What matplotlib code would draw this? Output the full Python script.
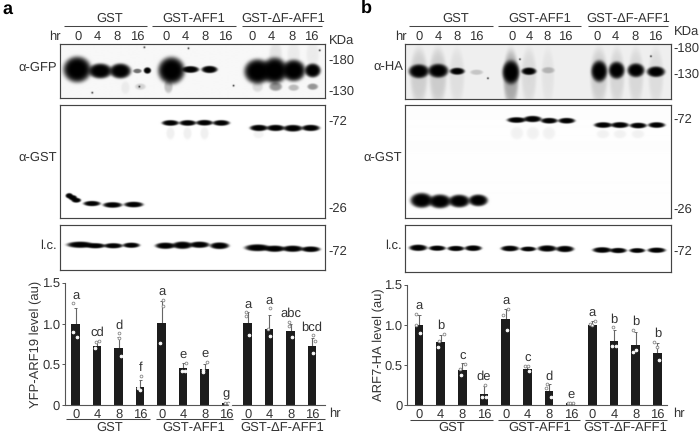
import numpy as np
import matplotlib
matplotlib.use("Agg")
import matplotlib.pyplot as plt

plt.rcParams['font.family'] = ['Liberation Sans', 'DejaVu Sans']
plt.rcParams['text.hinting'] = 'no_hinting'
plt.rcParams['text.hinting_factor'] = 1

W, H = 699, 433
TXT = '#333333'
FS = 9.4

hours = ['0', '4', '8', '16'] * 3
groups = ['GST', 'GST-AFF1', 'GST-\u0394F-AFF1']

# densitometry, panel a
a_vals = [1.0, 0.73, 0.70, 0.22, 1.01, 0.45, 0.44, 0.02, 1.01, 0.93, 0.91, 0.72]
a_tops = [1.19, 0.79, 0.83, 0.31, 1.28, 0.52, 0.50, 0.03, 1.14, 1.11, 0.99, 0.82]
a_pts = [[1.25, 0.90, 0.83], [0.70, 0.78, 0.79], [0.88, 0.82, 0.60], [0.36, 0.205, 0.18],
         [1.29, 1.22, 0.76], [0.52, 0.42, 0.42], [0.53, 0.43, 0.41], [0.03, 0.03, 0.015],
         [1.14, 1.10, 0.86], [1.19, 0.94, 0.85], [1.02, 0.97, 0.84], [0.855, 0.79, 0.645]]
a_jit = [[-0.14, -0.11, 0.08], [-0.11, -0.06, 0.08], [0, 0, 0.09], [0.06, -0.08, -0.02],
         [0.08, 0.08, -0.06], [0.11, -0.06, 0.09], [0.09, -0.09, -0.09], [-0.03, 0.09, 0.18],
         [-0.09, -0.09, 0.08], [0.03, -0.03, 0.05], [-0.08, -0.08, 0.06], [0.03, 0.13, 0.03]]
a_letters = ['a', 'cd', 'd', 'f', 'a', 'e', 'e', 'g', 'a', 'a', 'abc', 'bcd']

# densitometry, panel b
b_vals = [1.0, 0.79, 0.44, 0.14, 1.07, 0.45, 0.17, 0.02, 1.0, 0.80, 0.75, 0.65]
b_tops = [1.125, 0.875, 0.52, 0.24, 1.2, 0.48, 0.26, 0.03, 1.05, 0.94, 0.91, 0.77]
b_pts = [[1.14, 1.0, 0.90], [0.89, 0.80, 0.73], [0.51, 0.45, 0.37], [0.25, 0.105, 0.105],
         [1.2, 1.125, 0.94], [0.49, 0.49, 0.43], [0.26, 0.21, 0.105], [0.03, 0.03, 0.02],
         [1.01, 1.0, 1.045], [0.97, 0.74, 0.74], [0.94, 0.66, 0.69], [0.79, 0.72, 0.56]]
b_jit = [[-0.15, -0.12, 0.06], [0.14, -0.09, -0.12], [0.12, -0.09, -0.06], [0.06, -0.09, 0.09],
         [0.09, -0.12, 0.08], [-0.09, 0.02, 0.09], [-0.09, -0.12, 0.08], [-0.14, -0.02, 0.09],
         [-0.12, -0.03, 0.11], [-0.05, -0.09, 0.09], [-0.11, -0.11, 0.03], [-0.15, 0, 0.09]]
b_letters = ['a', 'b', 'c', 'de', 'a', 'c', 'd', 'e', 'a', 'b', 'b', 'b']

# blot bands: x, y, half width, half height, darkness (in picture pixels)
a1_bands = [(77, 70, 13, 12, 1), (100, 71.5, 11, 7, 1), (120, 71.5, 10, 7, 1), (147, 71, 3.5, 3, 1), (137, 71.5, 4, 2.2, .55),
            (171, 71, 12.5, 12.5, 1), (190, 70, 8, 3.2, 1), (209, 70, 7.5, 3.4, 1),
            (257, 72, 12.5, 11.5, 1), (274, 71, 12, 12, 1), (293, 71, 11, 10, 1), (312, 71, 7.5, 6.5, 1),
            (168, 87, 4, 6, .22), (275, 87, 6, 4, .4), (293, 88, 5, 3, .25), (312, 87, 5, 3, .4), (257, 87, 5, 5, .12),
            (140, 87, 5, 3, .15), (125, 88, 4, 6, .05), (275, 55, 6, 12, .08), (293, 55, 6, 12, .05), (312, 55, 6, 12, .05)]
a1_specks = [(144, 48), (188, 49), (319, 51), (139, 87), (233, 86), (92, 93)]

a2_bands = [(170, 122.7, 8, 2.7, 1), (187.3, 122.7, 8, 2.7, 1), (204, 122.5, 8, 2.7, 1), (220.7, 122.7, 8, 2.7, 1),
            (258.3, 127.7, 8.5, 3, 1), (275, 127.7, 8.5, 3, 1), (292.3, 128, 9, 3.2, 1), (310, 127.7, 8.5, 3, 1),
            (69, 195.5, 3.5, 2.5, 1), (72.5, 197.5, 4, 2.5, 1), (76, 200, 4.5, 2.3, 1),
            (91.7, 203.3, 8, 2.5, 1), (112.3, 204.7, 9, 2.7, 1), (133.3, 204.3, 9, 2.7, 1),
            (170, 133, 4, 6, .06), (187, 133, 4, 6, .06), (204, 133, 4, 6, .06), (258, 134, 5, 4, .05)]

a3_bands = [(80, 245, 12.5, 3, 1), (95, 246, 9.5, 2.5, 1), (113, 246, 9, 2.5, 1), (131, 245.5, 8, 2.5, 1),
            (165, 246, 9.5, 3, 1), (182, 245.5, 9.5, 3.5, 1), (199, 245, 9.5, 3, 1), (219, 246, 9, 3.2, 1),
            (257, 248, 12, 3.3, 1), (274, 249, 10, 3, 1), (292, 249, 10, 3, 1), (310, 249.5, 9, 2.7, 1)]

b1_bands = [(419, 71, 9.5, 6.5, 1), (438.3, 70.5, 9.5, 6.5, 1), (457.3, 71, 7, 3.3, 1), (476.7, 72, 6, 2.5, .18),
            (511, 72, 8, 11, 1), (529, 71, 7, 3.5, 1), (548.3, 70, 6, 3, .22),
            (599.3, 71, 7.5, 10, 1), (616.7, 70, 7.5, 8, 1), (636, 70, 8, 6.5, 1), (656, 71.5, 8.5, 5, 1),
            (419, 76, 8, 26, .14), (438, 76, 8, 26, .15), (457, 76, 7, 26, .07),
            (511, 78, 7, 26, .3), (529, 76, 7, 26, .09), (548, 76, 6, 26, .05),
            (599, 76, 8, 26, .14), (617, 76, 7, 26, .11), (636, 76, 7, 26, .1), (656, 76, 7, 26, .08)]
b1_specks = [(651, 56), (488, 78), (520, 59)]

b2_bands = [(516.7, 120, 9, 2.7, 1), (532.7, 119, 8.5, 3, 1), (549.3, 120.7, 8, 2.7, 1), (566.7, 120.7, 8, 2.7, 1),
            (603.3, 125, 8.5, 2.7, 1), (620, 125, 8.5, 2.8, 1), (638.3, 125.5, 8, 2.7, 1), (656.7, 125, 8, 2.7, 1),
            (421.7, 200, 10.5, 7, 1), (440, 201, 10.5, 6.5, 1), (459.3, 200.7, 10, 6, 1), (478.3, 200, 9, 5.5, 1),
            (517, 133, 6, 6, .05), (533, 133, 6, 6, .05), (549, 133, 6, 6, .05), (603, 134, 6, 4, .05), (620, 134, 6, 4, .05), (638, 134, 6, 4, .05)]

b3_bands = [(418.3, 248.3, 8.5, 3, 1), (437.3, 248.7, 8, 2.5, 1), (456, 249, 8, 2.5, 1), (473.3, 248.7, 8, 2.7, 1),
            (510, 249, 8.5, 2.7, 1), (528.3, 249.5, 7.5, 2.3, 1), (547.3, 249, 9, 3, 1), (565, 249.5, 8.5, 3, 1),
            (602.3, 250.5, 9, 2.7, 1), (618.3, 251, 8, 2.5, 1), (637.3, 251, 7.5, 2.3, 1), (656.7, 250.7, 8.5, 2.5, 1)]


def px_axes(fig, x0, y0, x1, y1):
    # axes from picture pixel box (y down)
    return fig.add_axes([x0 / W, 1 - y1 / H, (x1 - x0) / W, (y1 - y0) / H])


def blot(fig, box, bands, specks=(), base=0.0):
    x0, y0, x1, y1 = box
    ax = px_axes(fig, x0, y0, x1, y1)
    xx, yy = np.meshgrid(np.arange(x0, x1, 0.5), np.arange(y0, y1, 0.5))
    keep = np.full(xx.shape, 1.0 - base)
    for x, y, hw, hh, dark in bands:
        r2 = ((xx - x) / hw) ** 2 + ((yy - y) / hh) ** 2
        keep *= 1 - dark * np.exp(-0.7 * r2 ** 3)
    for x, y in specks:
        keep *= 1 - 0.9 * np.exp(-((xx - x) ** 2 + (yy - y) ** 2) / 0.8)
    ax.imshow(keep, cmap='gray', vmin=0, vmax=1, extent=(x0, x1, y1, y0), aspect='auto', interpolation='bilinear')
    ax.set_xticks([])
    ax.set_yticks([])
    for s in ax.spines.values():
        s.set_linewidth(0.85)
        s.set_color('#444444')
    return ax


def bars(fig, box, xlim, vals, tops, pts, jit, letters, ylabel, ylabel_x):
    ax = px_axes(fig, *box)
    ax.patch.set_alpha(0)
    x = np.arange(len(vals))
    ax.bar(x, vals, width=0.4, color='#1c1c1c', zorder=2)
    ax.vlines(x, vals, tops, color='#666666', lw=0.8, zorder=1)
    ax.hlines(tops, x - 0.07, x + 0.07, color='#666666', lw=0.7, zorder=1)
    for i in x:
        for p, j in zip(pts[i], jit[i]):
            edge = 'white' if p < vals[i] else '#888888'
            ax.scatter(i + j, p, s=4, facecolor='white', edgecolor=edge, linewidth=0.6, zorder=3, clip_on=False)
        ax.text(i, max(max(pts[i]), tops[i]) + 0.1, letters[i], ha='center', va='center', fontsize=FS, color=TXT)
    ax.set_xlim(*xlim)
    ax.set_ylim(0, 1.5)
    ax.set_xticks(x)
    ax.set_xticklabels(hours, fontsize=FS, color=TXT)
    ax.set_yticks([0, 0.5, 1.0, 1.5])
    ax.set_yticklabels(['0', '0.5', '1.0', '1.5'], fontsize=FS + 0.3, color=TXT)
    ax.tick_params(axis='x', length=0, pad=2.5)
    ax.tick_params(axis='y', length=2, width=0.7, color='#555555', pad=1.5)
    for s in ['top', 'right']:
        ax.spines[s].set_visible(False)
    for s in ['left', 'bottom']:
        ax.spines[s].set_color('#555555')
        ax.spines[s].set_linewidth(0.8)
    ax.text(ylabel_x, 0.5, ylabel, transform=ax.transAxes, rotation=90, ha='center', va='center',
            fontsize=FS + 0.1, color=TXT)
    return ax


fig = plt.figure(figsize=(6.99, 4.33), dpi=100)

blot(fig, (60, 44, 324.5, 98.3), a1_bands, a1_specks, base=0.03)
blot(fig, (60, 105, 324.5, 218), a2_bands)
blot(fig, (60, 224.5, 324.5, 270.3), a3_bands)
blot(fig, (405.3, 44, 671, 99), b1_bands, b1_specks, base=0.06)
blot(fig, (405.3, 105.3, 671, 217.7), b2_bands, base=0.005)
blot(fig, (405.3, 225, 671, 272.3), b3_bands)

bars(fig, (65, 283, 325, 405), (-0.498, 11.6), a_vals, a_tops, a_pts, a_jit, a_letters, 'YFP-ARF19 level (au)', -0.11)
bars(fig, (407.3, 285, 667, 405), (-0.54, 11.44), b_vals, b_tops, b_pts, b_jit, b_letters, 'ARF7-HA level (au)', -0.11)

# labels and group rules on a full picture overlay
ov = fig.add_axes([0, 0, 1, 1])
ov.set_xlim(0, W)
ov.set_ylim(H, 0)
ov.axis('off')
ov.patch.set_alpha(0)


def label(x, y, s, ha='center', **kw):
    ov.text(x, y, s, ha=ha, va='center', fontsize=kw.pop('fontsize', FS), color=kw.pop('color', TXT), **kw)


def rules(y, spans, names, name_x, name_y):
    for (x0, x1), name, nx in zip(spans, names, name_x):
        ov.plot([x0, x1], [y, y], color='#444444', lw=0.75, solid_capstyle='butt')
        label(nx, name_y, name)


label(2, 9, 'a', ha='left', fontsize=13, fontweight='bold', color='black')
label(361, 8, 'b', ha='left', fontsize=13, fontweight='bold', color='black')

rules(25.5, [(64, 147), (152, 236), (242, 322)], groups, [110, 194, 283], 18.5)
rules(25.5, [(409.3, 492.7), (497.7, 581), (587.7, 667.7)], groups, [456, 540, 628], 18.5)
rules(419.3, [(66, 150), (156, 233), (240.7, 325)], groups, [109.3, 194, 282.7], 427.5)
rules(419.5, [(410, 493.3), (498, 580), (585, 666.7)], groups, [451.7, 540, 625], 427.5)

lane_a = [77.7, 97, 117, 137.7, 165.7, 185, 205, 225.7, 251.7, 271.7, 291.7, 311.7]
lane_b = [419, 438.7, 456.7, 476.7, 511.7, 529.3, 547.3, 565, 597, 615, 635, 655]
for x, h in zip(lane_a, hours):
    label(x, 36.7, h)
for x, h in zip(lane_b, hours):
    label(x, 36.7, h)
label(61, 36.7, 'hr', ha='right')
label(406.7, 36.7, 'hr', ha='right')
label(329, 413.3, 'hr', ha='left')
label(672.7, 413.3, 'hr', ha='left')

label(329, 41.7, 'KDa', ha='left')
label(674, 33, 'KDa', ha='left')
for y, s in [(61, '-180'), (91.7, '-130'), (121.7, '-72'), (209, '-26'), (251.7, '-72')]:
    label(328, y, s, ha='left')
for y, s in [(48.7, '-180'), (75, '-130'), (120, '-72'), (209.3, '-26'), (251.7, '-72')]:
    label(673, y, s, ha='left')

label(57, 68, '\u03b1-GFP', ha='right')
label(57, 157.7, '\u03b1-GST', ha='right')
label(57, 245.7, 'l.c.', ha='right')
label(403, 68, '\u03b1-HA', ha='right')
label(402, 157.7, '\u03b1-GST', ha='right')
label(402, 245.7, 'l.c.', ha='right')

fig.savefig('out.png', dpi=100)
